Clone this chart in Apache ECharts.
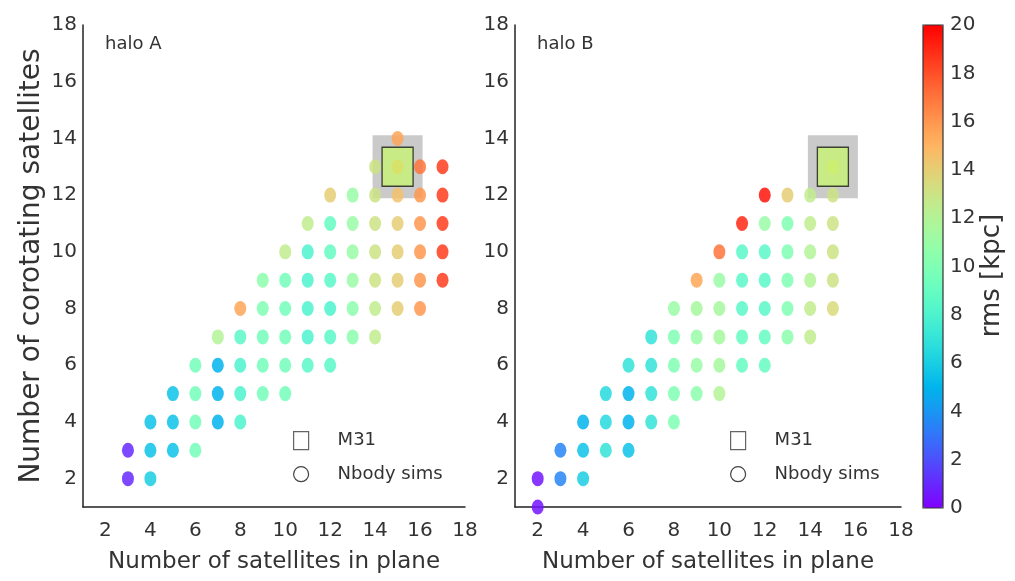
<!DOCTYPE html>
<html>
<head>
<meta charset="utf-8">
<title>Corotating satellites in plane</title>
<script src="https://cdn.jsdelivr.net/npm/echarts@6/dist/echarts.min.js"></script>
<style>
  html, body { margin: 0; padding: 0; background: #fff; }
  #chart { width: 1015px; height: 581px; }
</style>
</head>
<body>
<div id="chart"></div>
<script>
// [satellites in plane, corotating satellites, rms in kpc]
const haloAPoints = [
  [15, 14, 15.5],
  [14, 13, 13], [15, 13, 15.5], [16, 13, 17], [17, 13, 18.5],
  [12, 12, 14], [13, 12, 11], [14, 12, 13], [15, 12, 14.5], [16, 12, 16], [17, 12, 18.5],
  [11, 11, 12.5], [12, 11, 9], [13, 11, 11], [14, 11, 13], [15, 11, 14], [16, 11, 16], [17, 11, 18.5],
  [10, 10, 12.5], [11, 10, 8], [12, 10, 9], [13, 10, 11], [14, 10, 13], [15, 10, 14], [16, 10, 16], [17, 10, 18.5],
  [9, 9, 10.5], [10, 9, 9.5], [11, 9, 8], [12, 9, 8.5], [13, 9, 11], [14, 9, 13], [15, 9, 14], [16, 9, 16], [17, 9, 18.5],
  [8, 8, 15.5], [9, 8, 10], [10, 8, 9.5], [11, 8, 8], [12, 8, 8], [13, 8, 10.5], [14, 8, 12.5], [15, 8, 14], [16, 8, 16],
  [7, 7, 12], [8, 7, 8.5], [9, 7, 9.5], [10, 7, 9.5], [11, 7, 8], [12, 7, 8.5], [13, 7, 10.5], [14, 7, 12.5],
  [6, 6, 9.5], [7, 6, 5], [8, 6, 8], [9, 6, 9.5], [10, 6, 9.5], [11, 6, 8.5], [12, 6, 8.5],
  [5, 5, 5.5], [6, 5, 9.5], [7, 5, 5], [8, 5, 8], [9, 5, 9.5], [10, 5, 9.5],
  [4, 4, 5.5], [5, 4, 5.5], [6, 4, 9.5], [7, 4, 5], [8, 4, 8],
  [3, 3, 1], [4, 3, 5.5], [5, 3, 5.5], [6, 3, 9.5],
  [3, 2, 1], [4, 2, 6]
];

const haloBPoints = [
  [15, 13, 13.5],
  [12, 12, 19.5], [13, 12, 14], [14, 12, 12.5], [15, 12, 13],
  [11, 11, 19], [12, 11, 11], [13, 11, 10], [14, 11, 12.5], [15, 11, 13],
  [10, 10, 17], [11, 10, 8.5], [12, 10, 8.5], [13, 10, 10], [14, 10, 12], [15, 10, 13],
  [9, 9, 15.5], [10, 9, 11], [11, 9, 8.5], [12, 9, 8.5], [13, 9, 10], [14, 9, 12], [15, 9, 13],
  [8, 8, 11], [9, 8, 11.5], [10, 8, 11.5], [11, 8, 8.5], [12, 8, 8.5], [13, 8, 10], [14, 8, 12.5], [15, 8, 13.5],
  [7, 7, 7], [8, 7, 10], [9, 7, 11], [10, 7, 11.5], [11, 7, 9], [12, 7, 9], [13, 7, 10.5], [14, 7, 12.5],
  [6, 6, 7], [7, 6, 7], [8, 6, 10], [9, 6, 11], [10, 6, 11.5], [11, 6, 9], [12, 6, 9],
  [5, 5, 6.5], [6, 5, 5], [7, 5, 7], [8, 5, 10], [9, 5, 10.5], [10, 5, 12],
  [4, 4, 5], [5, 4, 6.5], [6, 4, 5], [7, 4, 7], [8, 4, 10],
  [3, 3, 3.5], [4, 3, 5.5], [5, 3, 7], [6, 3, 5.5],
  [2, 2, 0.5], [3, 2, 3.5], [4, 2, 6],
  [2, 1, 0.5]
];

// observed M31 system: [satellites in plane, corotating satellites]
const m31Point = [15, 13];

const axisTicks = [2, 4, 6, 8, 10, 12, 14, 16, 18];
const rmsTicks = [0, 2, 4, 6, 8, 10, 12, 14, 16, 18, 20];
const panelLabels = ['halo A', 'halo B'];

// matplotlib "rainbow" colormap sampled into stops
function rainbow(t) {
  const c = v => Math.round(255 * Math.max(0, Math.min(1, v)));
  const r = Math.abs(2 * t - 0.5);
  const g = Math.sin(Math.PI * t);
  const b = Math.cos(Math.PI * t / 2);
  return 'rgb(' + c(r) + ',' + c(g) + ',' + c(b) + ')';
}
const rainbowStops = [];
for (let i = 0; i <= 40; i++) rainbowStops.push(rainbow(i / 40));

const FONT = 'DejaVu Sans';
const TEXT = '#333';

const panels = [
  { left: 83, width: 382, points: haloAPoints },
  { left: 515, width: 386, points: haloBPoints }
];

const grids = panels.map(p => ({ left: p.left, top: 25, width: p.width, height: 482 }));
grids.push({ left: 923, top: 25, width: 20, height: 483, show: true, borderColor: '#333', borderWidth: 1.2, backgroundColor: 'transparent', z: 5 });

const xAxes = panels.map((p, i) => ({
  type: 'value', gridIndex: i, min: 1, max: 18,
  name: 'Number of satellites in plane', nameLocation: 'middle', nameGap: 44,
  nameTextStyle: { fontFamily: FONT, fontSize: 23, color: TEXT },
  axisLine: { show: true, onZero: false, lineStyle: { color: '#222', width: 1.5 } },
  axisTick: { show: false },
  splitLine: { show: false },
  axisLabel: { customValues: axisTicks, fontFamily: FONT, fontSize: 20, color: TEXT, margin: 14 }
}));
xAxes.push({ type: 'value', gridIndex: 2, min: 0, max: 1, show: false });

const yAxes = panels.map((p, i) => ({
  type: 'value', gridIndex: i, min: 1, max: 18,
  name: i === 0 ? 'Number of corotating satellites' : '',
  nameLocation: 'middle', nameGap: 37, nameRotate: 90,
  nameTextStyle: { fontFamily: FONT, fontSize: 28, color: TEXT },
  axisLine: { show: true, onZero: false, lineStyle: { color: '#222', width: 1.5 } },
  axisTick: { show: false },
  splitLine: { show: false },
  axisLabel: { customValues: axisTicks, fontFamily: FONT, fontSize: 20, color: TEXT, margin: 6 }
}));
yAxes.push({
  type: 'value', gridIndex: 2, min: 0, max: 20, interval: 2, position: 'right',
  name: 'rms [kpc]', nameLocation: 'middle', nameGap: 34, nameRotate: 90,
  nameTextStyle: { fontFamily: FONT, fontSize: 26, color: TEXT, padding: [0, 18, 0, 0] },
  axisLine: { show: false }, axisTick: { show: false }, splitLine: { show: false },
  axisLabel: { customValues: rmsTicks, fontFamily: FONT, fontSize: 20, color: TEXT, margin: 7 }
});

const series = [];
const pointSeriesIdx = [];
panels.forEach((p, i) => {
  // shaded region around the observed system
  series.push({
    type: 'scatter', name: 'M31 region', xAxisIndex: i, yAxisIndex: i,
    data: [m31Point], symbol: 'rect', symbolSize: [50, 63], silent: true, z: 1,
    itemStyle: { color: '#bdbdbd' }
  });
  pointSeriesIdx.push(series.length);
  series.push({
    type: 'scatter', name: 'Nbody sims', xAxisIndex: i, yAxisIndex: i,
    data: p.points, symbol: 'circle', symbolSize: [12, 15], z: 2,
    itemStyle: { opacity: 0.85 }
  });
  series.push({
    type: 'scatter', name: 'M31', xAxisIndex: i, yAxisIndex: i,
    data: [m31Point], symbol: 'rect', symbolSize: [31, 39], z: 3,
    itemStyle: { color: '#c8fa69', opacity: 0.7, borderColor: '#000', borderWidth: 1.5 }
  });
});

const legendIcon = { color: 'rgba(0,0,0,0)', borderColor: '#222', borderWidth: 1.2 };
const legends = panels.map((p, i) => ({
  left: i === 0 ? 293 : 730, top: 431, orient: 'vertical',
  itemWidth: 15, itemHeight: 18, itemGap: 15, padding: 0,
  selectedMode: false,
  textStyle: { fontFamily: FONT, fontSize: 18, color: TEXT, padding: [0, 0, 0, 24] },
  data: [
    { name: 'M31', icon: 'rect', itemStyle: legendIcon },
    { name: 'Nbody sims', icon: 'circle', itemStyle: legendIcon }
  ]
}));

const titles = panelLabels.map((t, i) => ({
  text: t, left: panels[i].left + 22, top: 35, padding: 0,
  textStyle: { fontFamily: FONT, fontSize: 18, fontWeight: 'normal', color: TEXT }
}));

const chart = echarts.init(document.getElementById('chart'), null, { renderer: 'canvas' });
chart.setOption({
  animation: false,
  backgroundColor: '#fff',
  title: titles,
  legend: legends,
  grid: grids,
  xAxis: xAxes,
  yAxis: yAxes,
  visualMap: {
    type: 'continuous', min: 0, max: 20, dimension: 2,
    seriesIndex: pointSeriesIdx,
    left: 923, top: 25, itemWidth: 20, itemHeight: 483,
    padding: 0, calculable: false, text: null, showLabel: false,
    hoverLink: false,
    inRange: { color: rainbowStops }
  },
  series: series
});
</script>
</body>
</html>
